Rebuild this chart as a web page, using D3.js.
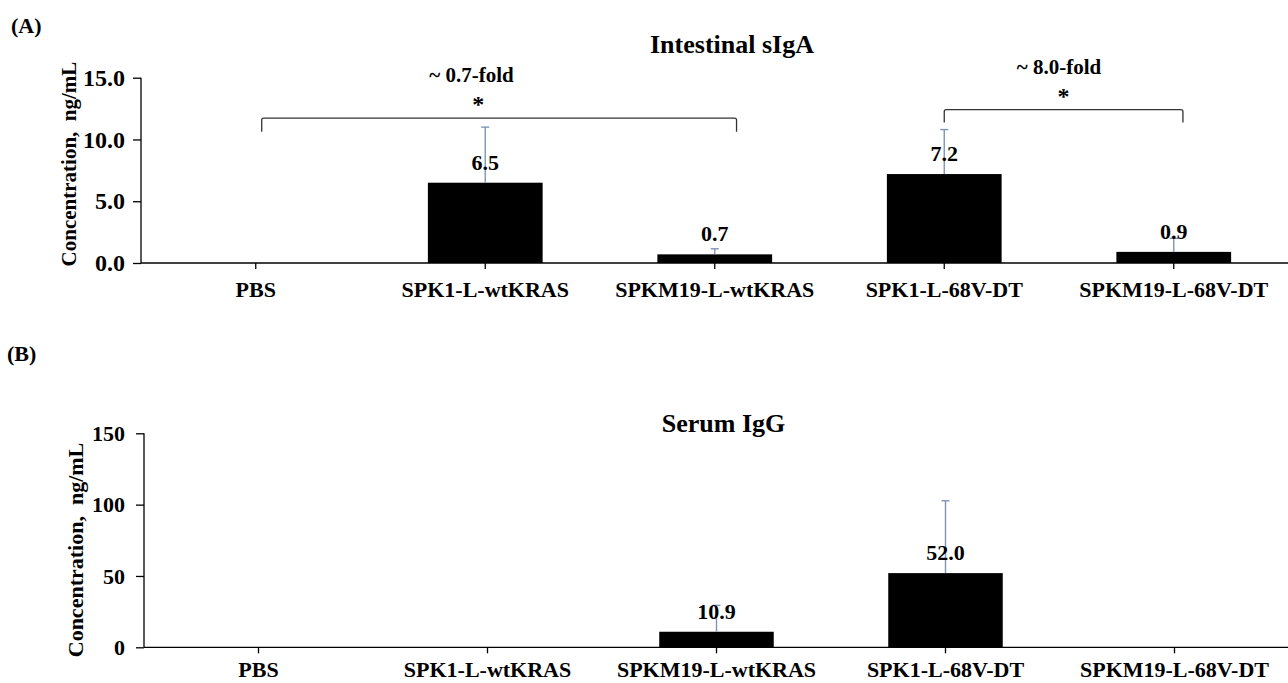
<!DOCTYPE html>
<html>
<head>
<meta charset="utf-8">
<script src="https://cdn.jsdelivr.net/npm/d3@7"></script>
<style>
  html, body { margin: 0; padding: 0; background: #fff; }
  svg { display: block; }
  text { font-family: "Liberation Serif", "Times New Roman", serif; font-weight: bold; fill: #000; }
</style>
</head>
<body>
<svg id="chart" width="1288" height="683"></svg>
<script>
// ---------- data ----------
const categories = ["PBS", "SPK1-L-wtKRAS", "SPKM19-L-wtKRAS", "SPK1-L-68V-DT", "SPKM19-L-68V-DT"];

const sIgAValues = [0, 6.5, 0.7, 7.2, 0.9];
const sIgAErrors = [0, 4.5, 0.45, 3.6, 1.1];
const sIgATicks = [0, 5, 10, 15];

const IgGValues = [0, 0, 10.9, 52.0, 0];
const IgGErrors = [0, 0, 18.5, 50.7, 0];
const IgGTicks = [0, 50, 100, 150];

// significance brackets (category index with small fractional offset, heights in data units)
const sIgABrackets = [
  { from: 0.026, to: 2.095, top: 11.73, leg: 10.62, fold: "~ 0.7-fold", foldAt: 0.94, starAt: 0.97 },
  { from: 3.0, to: 4.04, top: 12.41, leg: 11.38, fold: "~ 8.0-fold", foldAt: 3.5, starAt: 3.52 }
];

// ---------- drawing ----------
const svg = d3.select("#chart");
const errColor = "#7f94b6";

function panel(cfg) {
  const g = svg.append("g");
  const x = d3.scaleBand().domain(categories).range([cfg.x0, cfg.x1]).paddingInner(0.5).paddingOuter(0.25);
  const y = d3.scaleLinear().domain([0, cfg.max]).range([cfg.y0, cfg.y1]);
  const step = x.step();
  const cx = i => x(categories[0]) + x.bandwidth() / 2 + i * step;

  // bars
  g.selectAll("rect.bar").data(cfg.values).join("rect")
    .attr("x", (d, i) => x(categories[i]))
    .attr("width", x.bandwidth())
    .attr("y", d => y(d))
    .attr("height", d => y(0) - y(d))
    .attr("fill", "#000")
    .attr("display", d => d > 0 ? null : "none");

  // error bars (upper only)
  const eb = g.selectAll("g.err").data(cfg.values.map((v, i) => ({ v, e: cfg.errors[i], i })).filter(d => d.e > 0)).join("g");
  eb.append("line")
    .attr("x1", d => cx(d.i)).attr("x2", d => cx(d.i))
    .attr("y1", d => y(d.v)).attr("y2", d => y(d.v + d.e))
    .attr("stroke", errColor).attr("stroke-width", 1.4);
  eb.append("line")
    .attr("x1", d => cx(d.i) - 4).attr("x2", d => cx(d.i) + 4)
    .attr("y1", d => y(d.v + d.e)).attr("y2", d => y(d.v + d.e))
    .attr("stroke", errColor).attr("stroke-width", 1.4);

  // value labels
  g.selectAll("text.val").data(cfg.values.map((v, i) => ({ v, i })).filter(d => d.v > 0)).join("text")
    .attr("x", d => cx(d.i))
    .attr("y", d => y(d.v) - 13)
    .attr("text-anchor", "middle")
    .style("font-size", "22px")
    .text(d => d.v.toFixed(1));

  // axes
  const yAxis = d3.axisLeft(y).tickValues(cfg.ticks).tickSize(8).tickPadding(cfg.tickPad).tickFormat(cfg.fmt);
  const ya = g.append("g").attr("transform", `translate(${cfg.x0},0)`).call(yAxis);
  ya.select(".domain").attr("d", `M0,${cfg.y1}V${cfg.y0}`);
  ya.selectAll("text").style("font-size", cfg.tickFont).style("font-family", "Liberation Serif").style("font-weight", "bold");
  ya.selectAll("line, path").attr("stroke", "#000").attr("stroke-width", 1.3);

  const xAxis = d3.axisBottom(x).tickSize(6).tickPadding(cfg.xPad).tickSizeOuter(0);
  const xa = g.append("g").attr("transform", `translate(0,${cfg.y0})`).call(xAxis);
  xa.select(".domain").attr("d", `M${cfg.x0},0H${cfg.x1 + 5}`);
  xa.selectAll("text").style("font-size", "22px").style("font-family", "Liberation Serif").style("font-weight", "bold");
  xa.selectAll("line, path").attr("stroke", "#000").attr("stroke-width", 1.3);

  // y label
  g.append("text")
    .attr("transform", `translate(${cfg.ylabX},${cfg.ylabY}) rotate(-90)`)
    .attr("text-anchor", "middle")
    .style("font-size", cfg.ylabFont)
    .attr("xml:space", "preserve")
    .text("Concentration,  ng/mL");

  // title
  g.append("text")
    .attr("x", cfg.titleX).attr("y", cfg.titleY)
    .attr("text-anchor", "middle")
    .style("font-size", "26px")
    .text(cfg.title);

  // panel tag
  g.append("text")
    .attr("x", cfg.tagX).attr("y", cfg.tagY)
    .style("font-size", "22px")
    .text(cfg.tag);

  return { x, y, cx, step, g };
}

const A = panel({
  values: sIgAValues, errors: sIgAErrors, ticks: sIgATicks, max: 15,
  fmt: d3.format(".1f"), tickFont: "24px", tickPad: 8, xPad: 12,
  x0: 141, x1: 1288.5, y0: 263, y1: 77.7,
  ylabX: 76, ylabY: 164, ylabFont: "21px",
  title: "Intestinal sIgA", titleX: 732, titleY: 53,
  tag: "(A)", tagX: 11, tagY: 33
});

const B = panel({
  values: IgGValues, errors: IgGErrors, ticks: IgGTicks, max: 150,
  fmt: d3.format("d"), tickFont: "22px", tickPad: 11, xPad: 8,
  x0: 144, x1: 1289, y0: 647.3, y1: 433.3,
  ylabX: 83, ylabY: 550, ylabFont: "22px",
  title: "Serum IgG", titleX: 723.5, titleY: 432,
  tag: "(B)", tagX: 7, tagY: 361
});

// significance brackets on panel A
const posX = f => A.cx(0) + f * A.step;
const br = A.g.selectAll("g.br").data(sIgABrackets).join("g");
br.append("path")
  .attr("d", d => {
    const xl = posX(d.from), xr = posX(d.to), yt = A.y(d.top), yl = A.y(d.leg);
    return `M${xl},${yl}V${yt + 2}Q${xl},${yt} ${xl + 2},${yt}H${xr - 2}Q${xr},${yt} ${xr},${yt + 2}V${yl}`;
  })
  .attr("fill", "none").attr("stroke", "#333").attr("stroke-width", 1.3);
br.append("text")
  .attr("x", d => posX(d.starAt))
  .attr("y", d => A.y(d.top) - 6)
  .attr("text-anchor", "middle")
  .style("font-size", "24px")
  .text("*");
br.append("text")
  .attr("x", d => posX(d.foldAt))
  .attr("y", d => A.y(d.top) - 36)
  .attr("text-anchor", "middle")
  .style("font-size", "21px")
  .text(d => d.fold);
</script>
</body>
</html>
